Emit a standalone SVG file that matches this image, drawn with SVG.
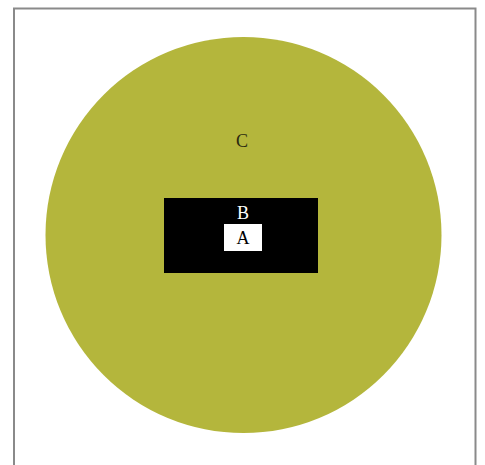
<svg xmlns="http://www.w3.org/2000/svg" width="485" height="465" viewBox="0 0 485 465">
<style>
.lbl{font-family:"Liberation Serif",serif;font-size:18px;text-anchor:middle}
</style>
<rect width="485" height="465" fill="#fff"/>
<path d="M14,470 V8.5 H475.5 V470" fill="none" stroke="#8a8a8a" stroke-width="2"/>
<g id="C">
<circle cx="243.5" cy="235" r="198" fill="#b4b63c"/>
<text class="lbl" x="242" y="147" fill="#2a2a10">C</text>
</g>
<g id="B">
<rect x="164" y="198" width="154" height="75" fill="#000"/>
<text class="lbl" x="243" y="219" fill="#fff">B</text>
</g>
<g id="A">
<rect x="224" y="224" width="38" height="27" fill="#fff"/>
<text class="lbl" x="243" y="244" fill="#000">A</text>
</g>
<g id="connectors"/>
</svg>
